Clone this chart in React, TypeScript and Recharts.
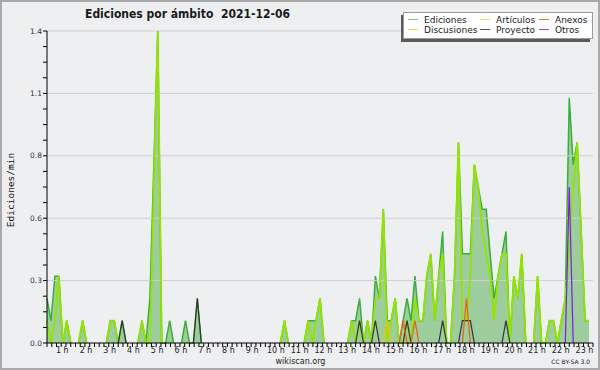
import { ComposedChart, Area, Line, XAxis, YAxis, ReferenceLine } from 'recharts'

// one slot = 10 minutes (00:00 .. 22:50), values are edits per minute
const ediciones = [
  0.2, 0.1, 0.3, 0.3, 0, 0.1, // 0 h
  0, 0, 0, 0.1, 0, 0,
  0, 0, 0, 0, 0.1, 0.1,
  0, 0.1, 0, 0, 0, 0,
  0.1, 0, 0.2, 0.8, 1.4, 0,
  0, 0.1, 0, 0, 0, 0.1, // 5 h
  0, 0, 0.2, 0, 0, 0,
  0, 0, 0, 0, 0, 0,
  0, 0, 0, 0, 0, 0,
  0, 0, 0, 0, 0, 0,
  0.1, 0, 0, 0, 0, 0, // 10 h
  0.1, 0.1, 0.1, 0.2, 0, 0,
  0, 0, 0, 0, 0, 0.1,
  0.1, 0.2, 0, 0.1, 0, 0.3,
  0.2, 0.6, 0.1, 0.1, 0.2, 0,
  0.1, 0.2, 0.1, 0.3, 0.1, 0.1, // 15 h
  0.3, 0.4, 0.1, 0.3, 0.5, 0,
  0, 0.3, 0.9, 0.4, 0.4, 0.4,
  0.8, 0.7, 0.6, 0.6, 0.4, 0.2,
  0.3, 0.4, 0.5, 0, 0.3, 0.2,
  0.4, 0, 0, 0, 0.3, 0, // 20 h
  0, 0.1, 0.1, 0, 0.1, 0.2,
  1.1, 0.8, 0.9, 0.5, 0.1, 0.1,
]

const articulos = [
  0.1, 0, 0.1, 0.3, 0, 0.1,
  0, 0, 0, 0.1, 0, 0,
  0, 0, 0, 0, 0.1, 0.1,
  0, 0, 0, 0, 0, 0,
  0.1, 0, 0, 0.7, 1.4, 0,
  0, 0, 0, 0, 0, 0,
  0, 0, 0, 0, 0, 0,
  0, 0, 0, 0, 0, 0,
  0, 0, 0, 0, 0, 0,
  0, 0, 0, 0, 0, 0,
  0.1, 0, 0, 0, 0, 0,
  0.1, 0, 0.1, 0.2, 0, 0,
  0, 0, 0, 0, 0, 0.1,
  0, 0.1, 0, 0.1, 0, 0.2,
  0.2, 0.6, 0, 0.1, 0.2, 0,
  0, 0.1, 0, 0.2, 0.1, 0.1,
  0.3, 0.4, 0.1, 0.3, 0.4, 0,
  0, 0.3, 0.9, 0.1, 0.1, 0.3,
  0.8, 0.7, 0.5, 0.4, 0.3, 0.1,
  0.3, 0.4, 0.4, 0, 0.3, 0.2,
  0.4, 0, 0, 0, 0.3, 0,
  0, 0.1, 0.1, 0, 0.1, 0.2,
  0.4, 0.7, 0.9, 0.5, 0.1, 0.1,
]

// sparse series: [slot, value]
const anexos: [number, number][] = [[90, 0.1], [93, 0.1], [106, 0.2]]
const discusiones: [number, number][] = [[86, 0.1]]
const proyecto: [number, number][] = [
  [19, 0.1], [38, 0.2], [79, 0.1], [83, 0.1], [91, 0.1],
  [100, 0.1], [105, 0.1], [106, 0.1], [107, 0.1], [116, 0.1],
]
const otros: [number, number][] = [[132, 0.7]]

const hourLabels = [
  '1 h', '2 h', '3 h', '4 h', '5 h', '6 h', '7 h', '8 h', '9 h', '10 h', '11 h', '12 h',
  '13 h', '14 h', '15 h', '16 h', '17 h', '18 h', '19 h', '20 h', '21 h', '22 h', '23 h',
]
const yTicks = [
  0, 0.07, 0.14, 0.21, 0.28, 0.35, 0.42, 0.49, 0.56, 0.63, 0.7,
  0.77, 0.84, 0.91, 0.98, 1.05, 1.12, 1.19, 1.26, 1.33, 1.4,
]
const yLabels = ['0.0', '0.3', '0.6', '0.8', '1.1', '1.4']
const gridLines = [0.28, 0.56, 0.84, 1.12, 1.4]

const legendItems = [
  { name: 'Ediciones', color: '#7cc97c', x: 408, y: 19.5 },
  { name: 'Artículos', color: '#c6ee6a', x: 480, y: 19.5 },
  { name: 'Anexos', color: '#f07844', x: 539, y: 19.5 },
  { name: 'Discusiones', color: '#f6cc55', x: 408, y: 29.5 },
  { name: 'Proyecto', color: '#555555', x: 480, y: 29.5 },
  { name: 'Otros', color: '#9146ee', x: 539, y: 29.5 },
]

const spread = (pts: [number, number][]) => {
  const out = ediciones.map(() => 0)
  pts.forEach(([i, v]) => { out[i] = v })
  return out
}

// zero runs are not stroked along the axis: keep only zeros that touch a non-zero slot
const trim = (arr: number[]) =>
  arr.map((v, i) => (v === 0 && !(arr[i - 1] > 0) && !(arr[i + 1] > 0) ? null : v))

const edTrim = trim(ediciones)
const artTrim = trim(articulos)
const anexosTrim = trim(spread(anexos))
const discTrim = trim(spread(discusiones))
const proyTrim = trim(spread(proyecto))
const otrosTrim = trim(spread(otros))

const data = ediciones.map((_, i) => ({
  slot: i,
  ediciones: edTrim[i],
  articulos: artTrim[i],
  anexos: anexosTrim[i],
  discusiones: discTrim[i],
  proyecto: proyTrim[i],
  otros: otrosTrim[i],
}))

// minor tick every 12 minutes, 5 per hour
const xTicks = Array.from({ length: 116 }, (_, k) => k * 1.2)

const BG = '#eeeff1'
const FONT = '"DejaVu Sans", sans-serif'

const XTick = (props: any) => {
  const { x, y, payload } = props
  const k = Math.round(payload.value / 1.2)
  const hour = k % 5 === 0 && k > 0 ? hourLabels[k / 5 - 1] : null
  return (
    <g>
      <line x1={x} y1={y} x2={x} y2={y + 4} stroke="#000" strokeWidth={1} />
      {hour && (
        <text x={x - 8.5} y={y + 9.5} textAnchor="middle" fontSize={8} fontFamily={FONT} fill="#222">
          {hour}
        </text>
      )}
    </g>
  )
}

const YTick = (props: any) => {
  const { x, y, payload } = props
  const k = Math.round(payload.value / 0.07)
  const label = k % 4 === 0 ? yLabels[k / 4] : null
  return (
    <g>
      <line x1={x - 4} y1={y} x2={x} y2={y} stroke="#000" strokeWidth={1} />
      {label && (
        <text x={x - 5} y={y + 2.5} textAnchor="end" fontSize={7.5} fontFamily={FONT} fill="#333">
          {label}
        </text>
      )}
    </g>
  )
}

export default function App() {
  return (
    <div style={{ position: 'absolute', left: 0, top: 0, width: 600, height: 370, background: BG }}>
      <ComposedChart width={600} height={370} data={data} margin={{ top: 31, right: 7, bottom: 0, left: 0 }}>
        {gridLines.map(g => (
          <ReferenceLine key={g} y={g} stroke="#cfcfcf" strokeWidth={1} />
        ))}
        <Area
          type="linear"
          dataKey="ediciones"
          stroke="#3aae3a"
          strokeWidth={1.5}
          fill="#9dcc9d"
          fillOpacity={1}
          dot={false}
          activeDot={false}
          isAnimationActive={false}
        />
        <Line type="linear" dataKey="articulos" stroke="#94e400" strokeWidth={1.8} dot={false} activeDot={false} isAnimationActive={false} />
        <Line type="linear" dataKey="proyecto" stroke="#333333" strokeWidth={1.2} dot={false} activeDot={false} isAnimationActive={false} />
        <Line type="linear" dataKey="discusiones" stroke="#f2c200" strokeWidth={1.2} dot={false} activeDot={false} isAnimationActive={false} />
        <Line type="linear" dataKey="anexos" stroke="#ee5e16" strokeWidth={1.2} dot={false} activeDot={false} isAnimationActive={false} />
        <Line type="linear" dataKey="otros" stroke="#7a1ee6" strokeWidth={1.2} dot={false} activeDot={false} isAnimationActive={false} />
        <XAxis
          dataKey="slot"
          type="number"
          domain={[0, 138]}
          ticks={xTicks}
          interval={0}
          height={27}
          tickSize={0}
          tickMargin={0}
          tickLine={false}
          axisLine={{ stroke: '#000', strokeWidth: 1 }}
          tick={XTick}
        />
        <YAxis
          type="number"
          domain={[0, 1.4]}
          ticks={yTicks}
          interval={0}
          width={47}
          tickSize={0}
          tickMargin={0}
          tickLine={false}
          axisLine={{ stroke: '#000', strokeWidth: 1 }}
          tick={YTick}
        />
      </ComposedChart>
      <svg width={600} height={370} style={{ position: 'absolute', left: 0, top: 0, pointerEvents: 'none' }}>
        <rect x={1} y={1} width={598} height={368} fill="none" stroke="#a9a9a9" strokeWidth={2} />
        <text x={85} y={18} fontSize={12} fontWeight="bold" fontFamily={FONT} fill="#1a1a1a" textLength={205} lengthAdjust="spacingAndGlyphs" xmlSpace="preserve">
          Ediciones por ámbito  2021-12-06
        </text>
        <rect x={401} y={15} width={189} height={27} fill="#5a5a5a" />
        <rect x={403.5} y={12.5} width={189} height={26} fill="#ffffff" stroke="#9a9a9a" strokeWidth={1} />
        {legendItems.map(it => (
          <g key={it.name}>
            <line x1={it.x} y1={it.y} x2={it.x + 10} y2={it.y} stroke={it.color} strokeWidth={1} />
            <text x={it.x + 16} y={it.y + 3.2} fontSize={9} fontFamily={FONT} fill="#222">
              {it.name}
            </text>
          </g>
        ))}
        <text
          x={10}
          y={190}
          transform="rotate(-90 10 190)"
          textAnchor="middle"
          dominantBaseline="central"
          fontSize={9.5}
          fontFamily='"DejaVu Sans Mono", monospace'
          fill="#111"
        >
          Ediciones/min
        </text>
        <text x={300.5} y={364} textAnchor="middle" fontSize={8} fontFamily={FONT} fill="#222">
          wikiscan.org
        </text>
        <text x={590} y={364} textAnchor="end" fontSize={6} fontFamily={FONT} fill="#222">
          CC BY-SA 3.0
        </text>
      </svg>
    </div>
  )
}
